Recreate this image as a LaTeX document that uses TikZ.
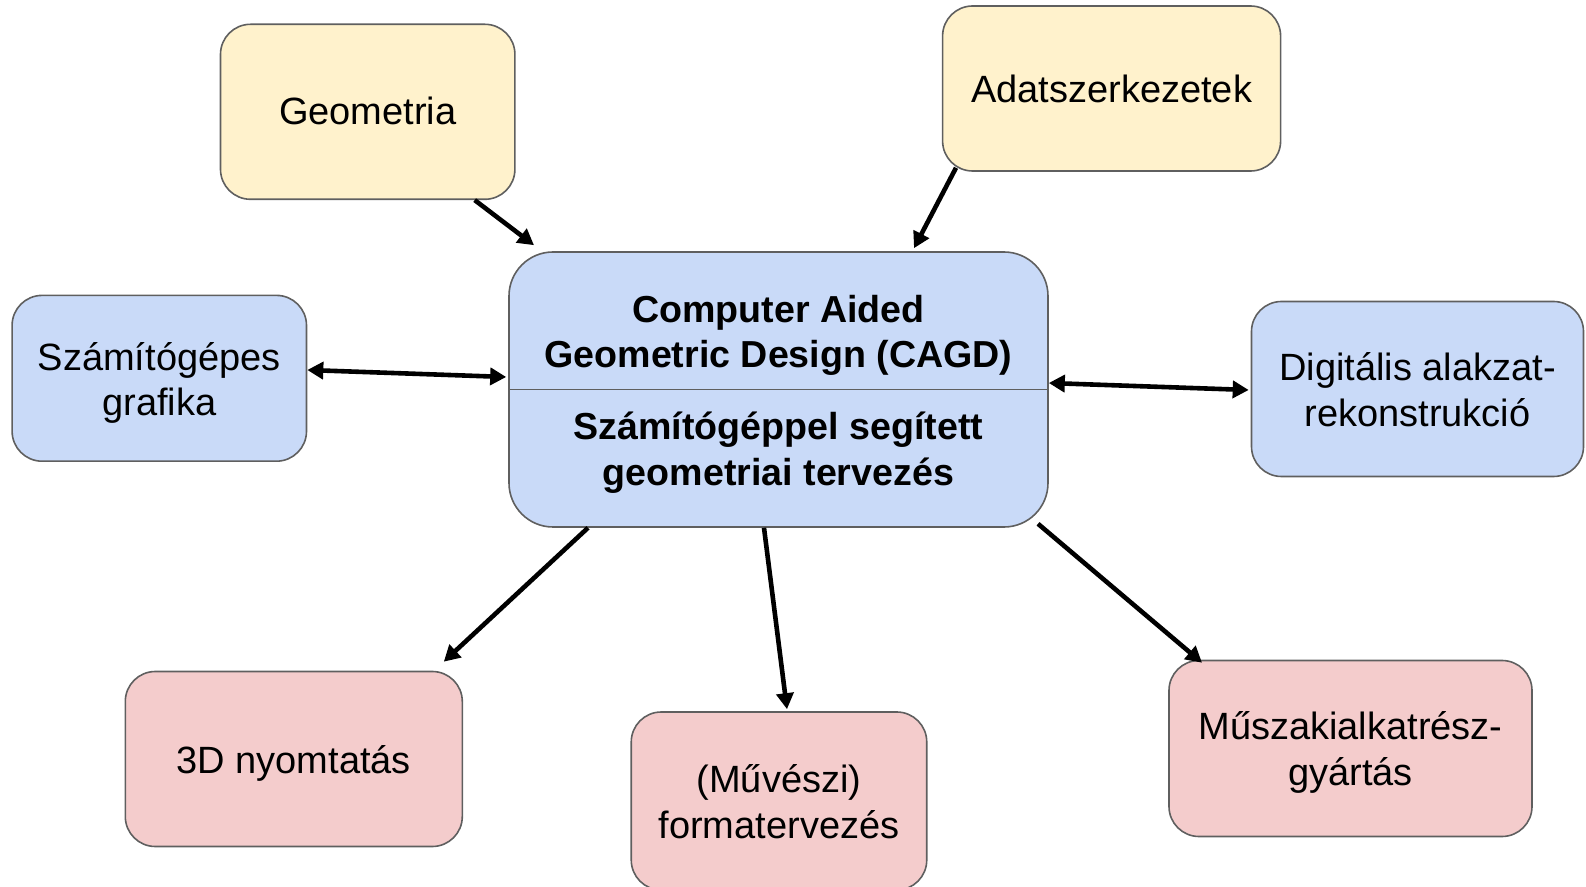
\documentclass[tikz,border=0pt]{standalone}
\usepackage{fontspec}
\setmainfont{Liberation Sans}
\usetikzlibrary{arrows.meta,calc}
\definecolor{sand}{HTML}{FFF2CC}
\definecolor{sky}{HTML}{C9DAF8}
\definecolor{rose}{HTML}{F4CCCC}
\definecolor{rim}{HTML}{5F5F5F}
\newcommand\boxtext[2][2.8pt]{\raisebox{-#1}[\height][\depth]{\begin{tabular}{@{}c@{}}#2\end{tabular}}}
\tikzstyle{topic}=[draw=rim,line width=.8pt,rounded corners=15pt,inner sep=0pt,align=center,font=\fontsize{19}{22.75}\selectfont]
\tikzstyle{srcbox}=[topic,fill=sand]
\tikzstyle{areabox}=[topic,fill=sky]
\tikzstyle{appbox}=[topic,fill=rose]
\tikzstyle{cagdtext}=[align=center,font=\bfseries\fontsize{18.8}{22.75}\selectfont]
\tikzstyle{arrhead}=[>/.tip={Triangle[length=8pt,width=8.5pt]}]
\tikzstyle{link} =[line width=2.3pt,arrhead,->]
\tikzstyle{links}=[line width=2.3pt,arrhead,<->]

\begin{document}
\begin{tikzpicture}[x=0.5pt,y=-0.5pt]
	\useasboundingbox (0,0) rectangle (1586,887);
	% boxes
	\node[areabox,rounded corners=22pt,minimum width=269.5pt,minimum height=137.5pt] (cagd) at (778.5,389.5) {};
	\draw[rim,line width=.8pt] (cagd.west) -- (cagd.east);
	\node[cagdtext] (cagden) at ($(cagd)+(0,-54)$) {Computer Aided\\Geometric Design (CAGD)};
	\node[cagdtext] (cagdhu) at ($(cagd)+(0,63)$) {Számítógéppel segített\\geometriai tervezés};
	\node[srcbox,minimum width=147.2pt,minimum height=87.5pt] (geo) at (367.7,111.8) {\boxtext[2pt]{Geometria}};
	\node[srcbox,minimum width=169pt,minimum height=82.5pt] (adat) at (1111.6,88.5) {\boxtext[2.4pt]{Adatszerkezetek}};
	\node[areabox,minimum width=147.2pt,minimum height=82.9pt] (graf) at (159.3,378.3) {\boxtext{Számítógépes\\grafika}};
	\node[areabox,minimum width=166pt,minimum height=87.5pt] (digi) at (1417.5,389) {\boxtext{Digitális alakzat-\\rekonstrukció}};
	\node[appbox,minimum width=168.5pt,minimum height=87.5pt] (nyom) at (293.8,759) {\boxtext{3D nyomtatás}};
	\node[appbox,minimum width=147.75pt,minimum height=89pt] (forma) at (779,801) {\boxtext{(Művészi)\\formatervezés}};
	\node[appbox,minimum width=181.5pt,minimum height=88pt] (musz) at (1350.5,748.5) {\boxtext[2.4pt]{Műszakialkatrész-\\gyártás}};
	% connectors
	\draw[link] ($(geo.south)+(107,0)$) -- ($(cagd.north)+(-244.5,-6)$);
	\draw[link] ($(adat.south)+(-155.6,-4)$) -- ($(cagd.north)+(135.5,-3)$);
	\draw[links] ($(graf.east)+(0,-8.3)$) -- ($(cagd.west)+(-2,-12.5)$);
	\draw[links] ($(cagd.east)+(0,-6.5)$) -- ($(digi.west)+(-2,1)$);
	\draw[link] ($(cagd.south)+(-190.5,0)$) -- ($(nyom.north)+(150,-9)$);
	\draw[link] ($(cagd.south)+(-14.5,0)$) -- ($(forma.north)+(8,-2)$);
	\draw[link] ($(cagd.south)+(259.5,-4)$) -- ($(musz.north)+(-148.5,3)$);
\end{tikzpicture}
\end{document}
